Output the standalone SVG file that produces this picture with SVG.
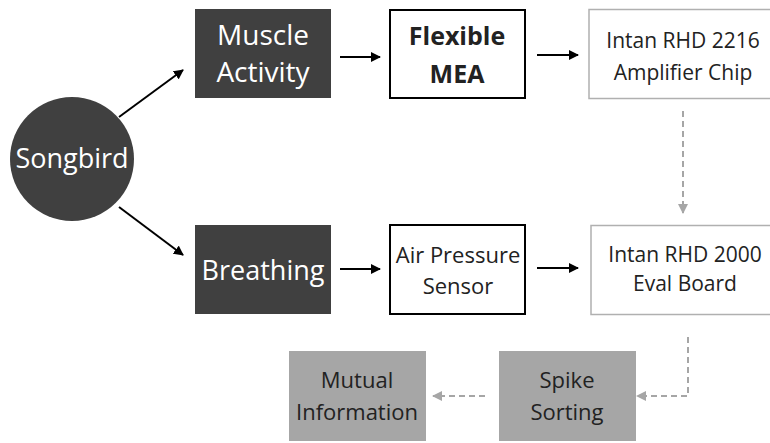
<svg xmlns="http://www.w3.org/2000/svg" width="770" height="443" viewBox="0 0 770 443">
<style>
text{font-family:"Open Sans","Liberation Sans",sans-serif;text-anchor:middle}
.w{fill:#fff}
.k{fill:#222}
.dark{fill:#404040}
.gray{fill:#a6a6a6}
.solid{stroke:#000;stroke-width:2;fill:none}
.dash{stroke:#a6a6a6;stroke-width:2;fill:none;stroke-dasharray:6,4}
</style>
<defs>
<marker id="ah" viewBox="0 0 10 10" refX="9" refY="5" markerWidth="5" markerHeight="5" orient="auto" markerUnits="strokeWidth"><path d="M0,0L10,5L0,10z" fill="#000"/></marker>
<marker id="ahg" viewBox="0 0 10 10" refX="9" refY="5" markerWidth="5" markerHeight="5" orient="auto" markerUnits="strokeWidth"><path d="M0,0L10,5L0,10z" fill="#a6a6a6"/></marker>
</defs>
<rect width="770" height="443" fill="#fff"/>
<g id="songbird"><circle cx="72" cy="159" r="62" class="dark"/><text x="72" y="168" class="w" font-size="27">Songbird</text></g>
<g id="muscle"><rect x="195" y="9" width="136" height="89" class="dark"/><text x="263" y="45" class="w" font-size="28">Muscle</text><text x="263" y="82" class="w" font-size="28">Activity</text></g>
<g id="mea"><rect x="390" y="10" width="135" height="88" fill="#fff" stroke="#000" stroke-width="2"/><text x="457" y="45" class="k" font-size="25" font-weight="bold">Flexible</text><text x="457" y="83" class="k" font-size="25" font-weight="bold">MEA</text></g>
<g id="intan2216"><rect x="589" y="9.5" width="185" height="89" fill="#fff" stroke="#b0b0b0" stroke-width="1.5"/><text x="683" y="48" class="k" font-size="21">Intan RHD 2216</text><text x="683" y="80" class="k" font-size="21">Amplifier Chip</text></g>
<g id="breathing"><rect x="195" y="225" width="136" height="89" class="dark"/><text x="263" y="280" class="w" font-size="27">Breathing</text></g>
<g id="air"><rect x="390" y="225" width="135" height="89" fill="#fff" stroke="#000" stroke-width="2"/><text x="458" y="263" class="k" font-size="22">Air Pressure</text><text x="458" y="294" class="k" font-size="22">Sensor</text></g>
<g id="intan2000"><rect x="591" y="225.5" width="185" height="89" fill="#fff" stroke="#b0b0b0" stroke-width="1.5"/><text x="685" y="262" class="k" font-size="21">Intan RHD 2000</text><text x="685" y="291" class="k" font-size="21">Eval Board</text></g>
<g id="spike"><rect x="499" y="351" width="137" height="90" class="gray"/><text x="567" y="388" class="k" font-size="22">Spike</text><text x="567" y="420" class="k" font-size="22">Sorting</text></g>
<g id="mutual"><rect x="289" y="351" width="137" height="90" class="gray"/><text x="357" y="388" class="k" font-size="22">Mutual</text><text x="357" y="420" class="k" font-size="22">Information</text></g>
<g id="connectors">
<line x1="119" y1="117" x2="183" y2="70" class="solid" marker-end="url(#ah)"/>
<line x1="119" y1="207" x2="183" y2="255" class="solid" marker-end="url(#ah)"/>
<line x1="340" y1="57" x2="380" y2="57" class="solid" marker-end="url(#ah)"/>
<line x1="537" y1="55" x2="578" y2="55" class="solid" marker-end="url(#ah)"/>
<line x1="340" y1="269" x2="380" y2="269" class="solid" marker-end="url(#ah)"/>
<line x1="537" y1="268" x2="578" y2="268" class="solid" marker-end="url(#ah)"/>
<line x1="683" y1="111" x2="683" y2="213" class="dash" marker-end="url(#ahg)"/>
<polyline points="688,337 688,396 637,396" class="dash" marker-end="url(#ahg)"/>
<line x1="485" y1="396" x2="433" y2="396" class="dash" marker-end="url(#ahg)"/>
</g>
</svg>
